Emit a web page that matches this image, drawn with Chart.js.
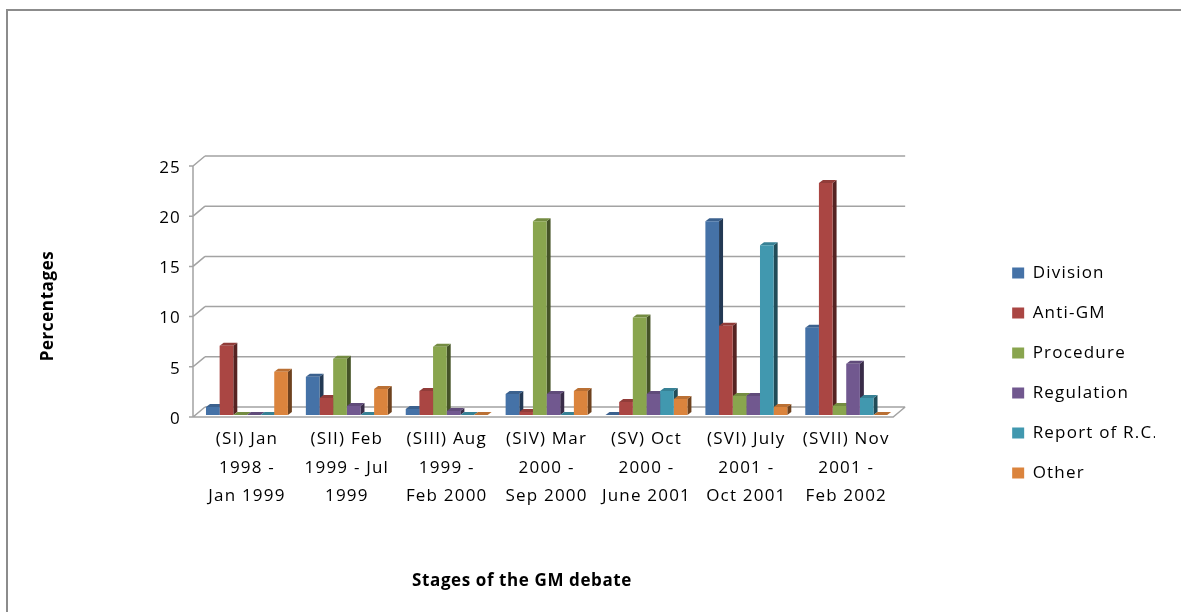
<!DOCTYPE html>
<html>
<head>
<meta charset="utf-8">
<title>Stages of the GM debate</title>
<script src="https://cdn.jsdelivr.net/npm/chart.js@4/dist/chart.umd.min.js"></script>
<style>
  html, body { margin: 0; padding: 0; background: #ffffff; overflow: hidden; }
  #frame {
    position: absolute; left: 6px; top: 9px; width: 3000px; height: 3000px;
    border-top: 2px solid #8c8c8c; border-left: 2px solid #8c8c8c;
  }
  canvas { position: absolute; left: 0; top: 0; }
</style>
</head>
<body>
<div id="frame"></div>
<canvas id="chart" width="1181" height="612"></canvas>
<script>
// Stages of the debate (x categories, one label line per array item)
const stages = [
  ['(SI) Jan', '1998 -', 'Jan 1999'],
  ['(SII) Feb', '1999 - Jul', '1999'],
  ['(SIII) Aug', '1999 -', 'Feb 2000'],
  ['(SIV) Mar', '2000 -', 'Sep 2000'],
  ['(SV) Oct', '2000 -', 'June 2001'],
  ['(SVI) July', '2001 -', 'Oct 2001'],
  ['(SVII) Nov', '2001 -', 'Feb 2002']
];

// Share of each theme per stage (percentages)
const division   = [0.8, 3.8, 0.6, 2.1, 0.0, 19.3, 8.7];
const antiGM     = [6.9, 1.7, 2.4, 0.3, 1.3, 8.9, 23.1];
const procedure  = [0.0, 5.6, 6.8, 19.3, 9.7, 1.9, 0.9];
const regulation = [0.0, 0.9, 0.4, 2.1, 2.1, 1.9, 5.1];
const reportRC   = [0.0, 0.0, 0.0, 0.0, 2.4, 16.9, 1.7];
const other      = [4.3, 2.6, 0.0, 2.4, 1.6, 0.8, 0.0];

const seriesNames = ['Division', 'Anti-GM', 'Procedure', 'Regulation', 'Report of R.C.', 'Other'];
const seriesColors = ['#4572A7', '#AA4643', '#89A54E', '#71588F', '#4198AF', '#DB843D'];

// Value axis ticks
const yTicks = [0, 5, 10, 15, 20, 25];

const yTitle = 'Percentages';
const xTitle = 'Stages of the GM debate';

const FONT = '"Open Sans", "DejaVu Sans", sans-serif';
const SPACING = '1.2px';

function shade(hex, f) {
  const n = parseInt(hex.slice(1), 16);
  const r = Math.round(((n >> 16) & 255) * f);
  const g = Math.round(((n >> 8) & 255) * f);
  const b = Math.round((n & 255) * f);
  return `rgb(${r},${g},${b})`;
}

// Depth offsets of the pseudo-3D box and bars
const WALL = { dx: 12, dy: -10 };
const BAR = { dx: 4, dy: -3 };

const letterSpacing = {
  id: 'letterSpacing',
  beforeUpdate(chart) { chart.ctx.letterSpacing = SPACING; },
  beforeDraw(chart) { chart.ctx.letterSpacing = SPACING; }
};

// Back wall gridlines, side wall and floor
const walls = {
  id: 'walls',
  beforeDatasetsDraw(chart) {
    const { ctx, chartArea: ca, scales } = chart;
    const ys = scales.y;
    const xL = ca.left - 4, xR = ca.right - 3;
    const front = v => ys.getPixelForValue(v) + 2;
    ctx.save();
    ctx.strokeStyle = '#a3a3a3';
    ctx.lineWidth = 1.5;
    ctx.beginPath();
    yTicks.forEach(v => {
      const f = front(v);
      ctx.moveTo(xL + WALL.dx, f + WALL.dy);
      ctx.lineTo(xR + WALL.dx, f + WALL.dy);
      ctx.moveTo(xL - 4, f);
      ctx.lineTo(xL, f);
      ctx.lineTo(xL + WALL.dx, f + WALL.dy);
    });
    const f0 = front(0), fTop = front(yTicks[yTicks.length - 1]);
    ctx.moveTo(xL, fTop);
    ctx.lineTo(xL, f0);
    ctx.lineTo(xR, f0);
    ctx.lineTo(xR + WALL.dx, f0 + WALL.dy);
    ctx.stroke();
    ctx.restore();
  }
};

// Top and side faces of each bar, drawn behind the front faces
const barDepth = {
  id: 'barDepth',
  beforeDatasetsDraw(chart) {
    const ctx = chart.ctx;
    ctx.save();
    chart.data.datasets.forEach((ds, i) => {
      const meta = chart.getDatasetMeta(i);
      meta.data.forEach(bar => {
        const { x, y, base, width } = bar.getProps(['x', 'y', 'base', 'width'], true);
        const l = x - width / 2, r = x + width / 2;
        const top = Math.min(y, base), bot = Math.max(y, base);
        // side
        ctx.fillStyle = shade(seriesColors[i], 0.5);
        ctx.beginPath();
        ctx.moveTo(r, top);
        ctx.lineTo(r + BAR.dx, top + BAR.dy);
        ctx.lineTo(r + BAR.dx, bot + BAR.dy);
        ctx.lineTo(r, bot);
        ctx.closePath();
        ctx.fill();
        // top
        ctx.fillStyle = shade(seriesColors[i], 0.85);
        ctx.beginPath();
        ctx.moveTo(l, top);
        ctx.lineTo(l + BAR.dx, top + BAR.dy);
        ctx.lineTo(r + BAR.dx, top + BAR.dy);
        ctx.lineTo(r, top);
        ctx.closePath();
        ctx.fill();
      });
    });
    ctx.restore();
  }
};

// Axis titles
const axisTitles = {
  id: 'axisTitles',
  afterDraw(chart) {
    const ctx = chart.ctx;
    ctx.save();
    ctx.letterSpacing = '0.6px';
    ctx.fillStyle = '#000';
    ctx.font = `bold 17px ${FONT}`;
    ctx.textAlign = 'center';
    ctx.textBaseline = 'middle';
    ctx.fillText(xTitle, 522, 581);
    ctx.translate(48, 306);
    ctx.rotate(-Math.PI / 2);
    ctx.fillText(yTitle, 0, 0);
    ctx.restore();
  }
};

const seriesValues = [division, antiGM, procedure, regulation, reportRC, other];

new Chart(document.getElementById('chart'), {
  type: 'bar',
  data: {
    labels: stages,
    datasets: seriesNames.map((name, i) => ({
      label: name,
      data: seriesValues[i],
      backgroundColor: seriesColors[i],
      borderWidth: 0,
      categoryPercentage: 0.82,
      barPercentage: 1.0
    }))
  },
  options: {
    responsive: false,
    animation: false,
    devicePixelRatio: 1,
    layout: { padding: { left: 160, top: 164, bottom: 30, right: 26 } },
    plugins: {
      tooltip: { enabled: false },
      legend: {
        position: 'right',
        align: 'center',
        labels: {
          boxWidth: 12,
          boxHeight: 11,
          padding: 23,
          color: '#000',
          font: { family: FONT, size: 17 }
        }
      }
    },
    scales: {
      x: {
        grid: { display: false, drawTicks: false },
        border: { display: false },
        ticks: {
          color: '#000',
          font: { family: FONT, size: 17, lineHeight: 1.68 },
          padding: 10,
          maxRotation: 0,
          autoSkip: false
        },
        afterFit(s) { s.height = 167; }
      },
      y: {
        min: 0,
        max: 25,
        grid: { display: false, drawTicks: false },
        border: { display: false },
        ticks: {
          stepSize: 5,
          color: '#000',
          font: { family: FONT, size: 17 },
          padding: 16,
          labelOffset: 4
        },
        afterFit(s) { s.width = 37; }
      },
      gap: {
        type: 'linear',
        position: 'right',
        display: true,
        grid: { display: false, drawTicks: false },
        border: { display: false },
        ticks: { display: false },
        afterFit(s) { s.width = 93; }
      }
    }
  },
  plugins: [letterSpacing, walls, barDepth, axisTitles]
});
</script>
</body>
</html>
